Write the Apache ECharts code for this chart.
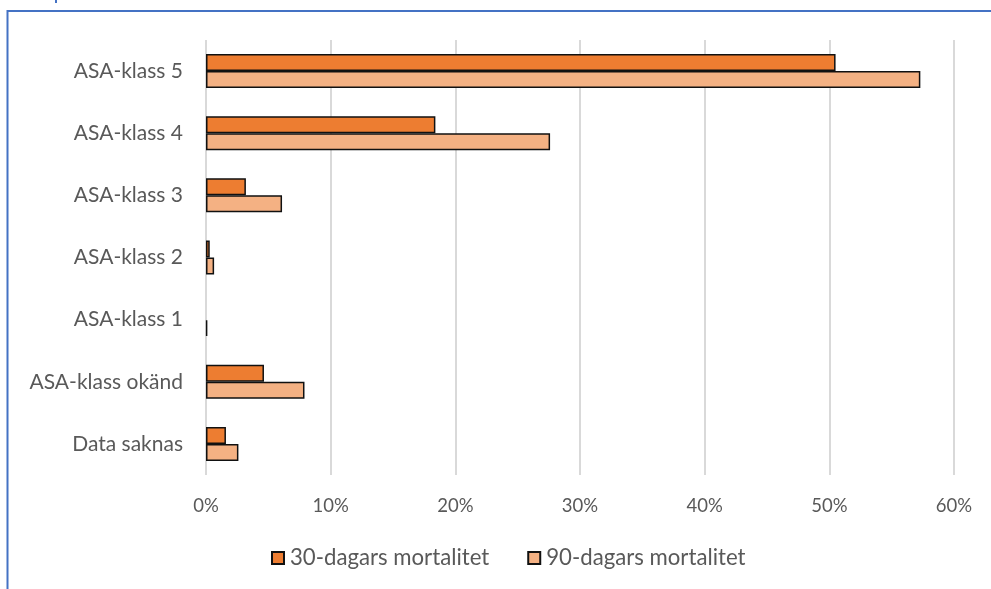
<!DOCTYPE html>
<html>
<head>
<meta charset="utf-8">
<script src="https://cdn.jsdelivr.net/npm/echarts@6/dist/echarts.min.js"></script>
<style>
  html, body { margin: 0; padding: 0; background: #ffffff; }
  #chart { width: 991px; height: 589px; }
</style>
</head>
<body>
<div id="chart"></div>
<script>
// ASA classes, listed top to bottom
const categories = ['ASA-klass 5', 'ASA-klass 4', 'ASA-klass 3', 'ASA-klass 2', 'ASA-klass 1', 'ASA-klass okänd', 'Data saknas'];
// Mortality share (%) per class
const mortality30 = [50.5, 18.4, 3.2, 0.3, 0, 4.65, 1.6];
const mortality90 = [57.3, 27.6, 6.1, 0.65, 0.1, 7.9, 2.6];
const seriesNames = ['30-dagars mortalitet', '90-dagars mortalitet'];
const xTicks = [0, 10, 20, 30, 40, 50, 60];

const FONT = 'Lato';
const TEXT = '#595959';

// zero-length bars get no outline
const toItems = arr => arr.map(v => v === 0 ? { value: v, itemStyle: { borderWidth: 0 } } : v);

const chart = echarts.init(document.getElementById('chart'), null, { renderer: 'canvas' });

chart.setOption({
  backgroundColor: '#ffffff',
  animation: false,
  textStyle: { fontFamily: FONT, color: TEXT },
  grid: { left: 206, right: 37, top: 40, bottom: 114, containLabel: false },
  legend: {
    data: seriesNames,
    top: 547,
    left: 271,
    padding: [0, 0, 0, 0],
    itemWidth: 12,
    itemHeight: 12,
    itemGap: 38,
    icon: 'rect',
    textStyle: { fontFamily: FONT, fontSize: 22.2, color: TEXT, padding: [0, 0, 0, 1] }
  },
  xAxis: {
    type: 'value',
    min: xTicks[0],
    max: xTicks[xTicks.length - 1],
    interval: 10,
    axisLine: { show: false },
    axisTick: { show: false },
    splitLine: { show: true, lineStyle: { color: '#d9d9d9', width: 2 } },
    axisLabel: {
      fontFamily: FONT, fontSize: 18.5, color: TEXT, margin: 22,
      formatter: v => v + '%'
    }
  },
  yAxis: {
    type: 'category',
    data: categories,
    inverse: true,
    axisLine: { show: false },
    axisTick: { show: false },
    axisLabel: { fontFamily: FONT, fontSize: 21, color: TEXT, margin: 23 }
  },
  series: [
    {
      name: seriesNames[0],
      type: 'bar',
      data: toItems(mortality30),
      barWidth: 17,
      barGap: '0%',
      itemStyle: { color: '#ED7D31', borderColor: '#111111', borderWidth: 1.5 }
    },
    {
      name: seriesNames[1],
      type: 'bar',
      data: toItems(mortality90),
      barWidth: 17,
      barGap: '0%',
      itemStyle: { color: '#F4B183', borderColor: '#111111', borderWidth: 1.5 }
    }
  ],
  graphic: [
    // chart frame edges
    { type: 'line', shape: { x1: 7, y1: 11, x2: 991, y2: 11 }, style: { stroke: '#4472C4', lineWidth: 2 } },
    { type: 'line', shape: { x1: 7.5, y1: 10, x2: 7.5, y2: 589 }, style: { stroke: '#4472C4', lineWidth: 2 } },
    { type: 'line', shape: { x1: 56, y1: 0, x2: 56, y2: 3 }, style: { stroke: '#4472C4', lineWidth: 2 } }
  ]
});
</script>
</body>
</html>
